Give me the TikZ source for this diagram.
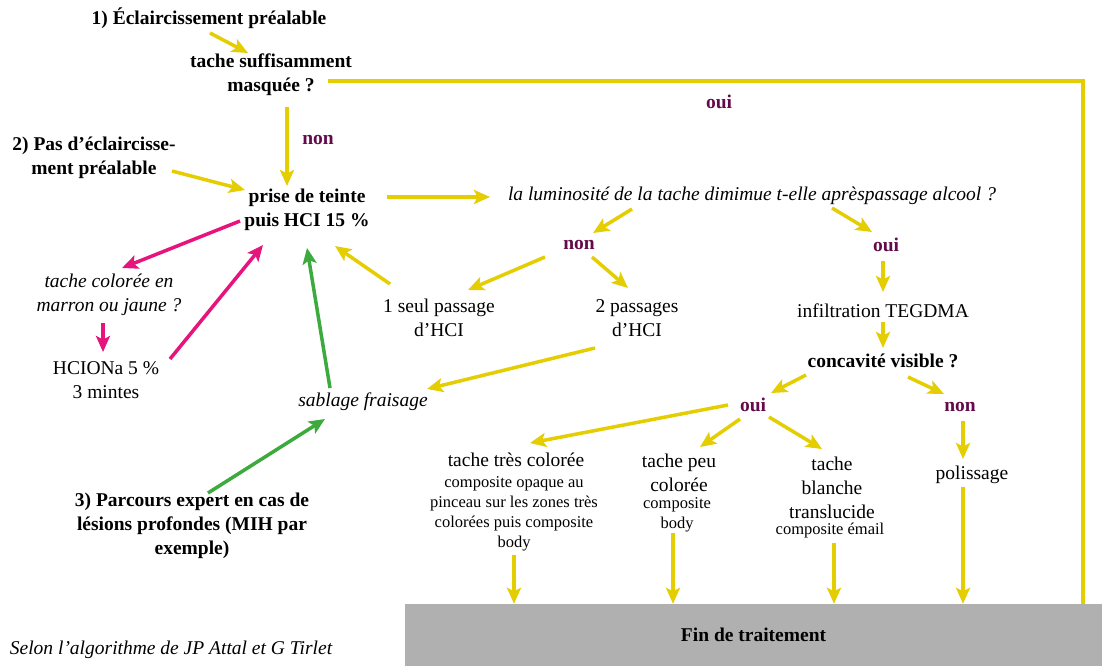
\documentclass[tikz,border=0pt]{standalone}
\usepackage{fontspec}
\setmainfont{Liberation Serif}
\usetikzlibrary{arrows.meta}
\definecolor{ylw}{RGB}{228,205,0}
\definecolor{pnk}{RGB}{230,20,125}
\definecolor{grn}{RGB}{60,170,60}
\definecolor{purp}{RGB}{100,10,75}
\definecolor{fingray}{RGB}{176,176,176}
\begin{document}
\begin{tikzpicture}[x=1pt,y=-1pt,
  every node/.style={inner sep=0pt, align=center, font=\fontsize{19.5}{24}\selectfont},
  sm/.style={font=\fontsize{16.5}{20}\selectfont},
  bf/.style={font=\fontsize{19.5}{24}\selectfont\bfseries},
  it/.style={font=\fontsize{19.5}{24}\selectfont\itshape},
  lab/.style={bf, text=purp},
  tip/.style={-{Stealth[length=16pt,width=14pt,inset=3.5pt]}},
  ya/.style={draw=ylw, line width=3.5pt, tip},
  yl/.style={draw=ylw, line width=3.5pt},
  pa/.style={draw=pnk, line width=3.5pt, tip},
  ga/.style={draw=grn, line width=3.5pt, tip}]
\useasboundingbox (0,0) rectangle (1102,666);

% nodes
\node[bf] (n1) at (209,18) {1) Éclaircissement préalable};
\node[bf] (q1) at (271,75) {tache suffisamment\\masquée ?};
\node[bf] (n2) at (94,158) {2) Pas d’éclaircisse-\\ment préalable};
\node[bf] (pt) at (307,210) {prise de teinte\\puis HCI 15 \%};
\node[it] (lum) at (752,196) {la luminosité de la tache dimimue t-elle aprèspassage alcool ?};
\node[lab] (non1) at (579,245) {non};
\node[lab] (oui1) at (886,245) {oui};
\node (p1) at (439,318) {1 seul passage\\d’HCI};
\node (p2) at (637,318) {2 passages\\d’HCI};
\node[it] (sab) at (363,402) {sablage fraisage};
\node (inf) at (883,311) {infiltration TEGDMA};
\node[bf] (conc) at (883,361) {concavité visible ?};
\node[lab] (oui2) at (753,405) {oui};
\node[lab] (non2) at (960,407) {non};
\node (pol) at (972,475) {polissage};
\node[it] (tcm) at (109,295) {tache colorée en\\marron ou jaune ?};
\node (hc) at (106,380) {HCIONa 5 \%\\3 mintes};
\node[bf] (n3) at (192,526) {3) Parcours expert en cas de\\lésions profondes (MIH par\\exemple)};
\node (tt) at (516,460) {tache très colorée};
\node[sm] (ttb) at (514,514) {composite opaque au\\pinceau sur les zones très\\colorées puis composite\\body};
\node (tpc) at (679,473) {tache peu\\colorée};
\node[sm] (tpcb) at (677,515) {composite\\body};
\node (tbt) at (832,488) {tache\\blanche\\translucide};
\node[sm] (tbtb) at (830,531) {composite émail};
\node[lab] (louiq) at (719,102) {oui};
\node[lab] (lnonq) at (318,140) {non};
\node[fill=fingray, minimum width=697pt, minimum height=62pt, bf] (fin) at (753.5,635) {Fin de traitement};
\node[it] (selon) at (171,650) {Selon l’algorithme de JP Attal et G Tirlet};

% connectors
\draw[ya] ([shift={(1,15)}]n1.center) -- ([shift={(-23,-22)}]q1.center);
\draw[yl] ([shift={(57,6)}]q1.center) -| ([xshift=329.5pt]fin.north);
\draw[ya] ([shift={(16,32)}]q1.center) -- ([shift={(-20,-24)}]pt.center);
\draw[ya] ([shift={(78,13)}]n2.center) -- ([shift={(-62,-20)}]pt.center);
\draw[ya] ([shift={(80,-13)}]pt.center) -- ([shift={(-262,1)}]lum.center);
\draw[ya] ([shift={(-120,13)}]lum.center) -- ([shift={(14,-12)}]non1.center);
\draw[ya] ([shift={(80,12)}]lum.center) -- ([shift={(-14,-13)}]oui1.center);
\draw[ya] ([shift={(-34,12)}]non1.center) -- ([shift={(29,-28)}]p1.center);
\draw[ya] ([shift={(13,12)}]non1.center) -- ([shift={(-9,-30)}]p2.center);
\draw[ya] ([shift={(-49,-34)}]p1.center) -- ([shift={(28,36)}]pt.center);
\draw[ya] ([shift={(-42,30)}]p2.center) -- ([shift={(64,-13)}]sab.center);
\draw[ga] ([shift={(-33,-14)}]sab.center) -- ([shift={(0,38)}]pt.center);
\draw[ga] ([shift={(16,-33)}]n3.center) -- ([shift={(-38,17)}]sab.center);
\draw[pa] ([shift={(-67,11)}]pt.center) -- ([shift={(13,-27)}]tcm.center);
\draw[pa] ([shift={(-6,28)}]tcm.center) -- ([shift={(-3,-28)}]hc.center);
\draw[pa] ([shift={(64,-21)}]hc.center) -- ([shift={(-44,35)}]pt.center);
\draw[ya] ([shift={(-3,16)}]oui1.center) -- ([shift={(0,-19)}]inf.center);
\draw[ya] ([shift={(0,11)}]inf.center) -- ([shift={(0,-13)}]conc.center);
\draw[ya] ([shift={(-77,14)}]conc.center) -- ([shift={(18,-12)}]oui2.center);
\draw[ya] ([shift={(25,16)}]conc.center) -- ([shift={(-16,-13)}]non2.center);
\draw[ya] ([shift={(-25,0)}]oui2.center) -- ([shift={(14,-17)}]tt.center);
\draw[ya] ([shift={(-13,14)}]oui2.center) -- ([shift={(21,-26)}]tpc.center);
\draw[ya] ([shift={(16,12)}]oui2.center) -- ([shift={(-10,-39)}]tbt.center);
\draw[ya] ([shift={(3,14)}]non2.center) -- ([shift={(-9,-16)}]pol.center);
\draw[ya] ([shift={(0,41)}]ttb.center) -- ([xshift=-239.5pt]fin.north);
\draw[ya] ([shift={(-4,18)}]tpcb.center) -- ([xshift=-80.5pt]fin.north);
\draw[ya] ([shift={(4,12)}]tbtb.center) -- ([xshift=80.5pt]fin.north);
\draw[ya] ([shift={(-9,12)}]pol.center) -- ([xshift=209.5pt]fin.north);
\end{tikzpicture}
\end{document}
